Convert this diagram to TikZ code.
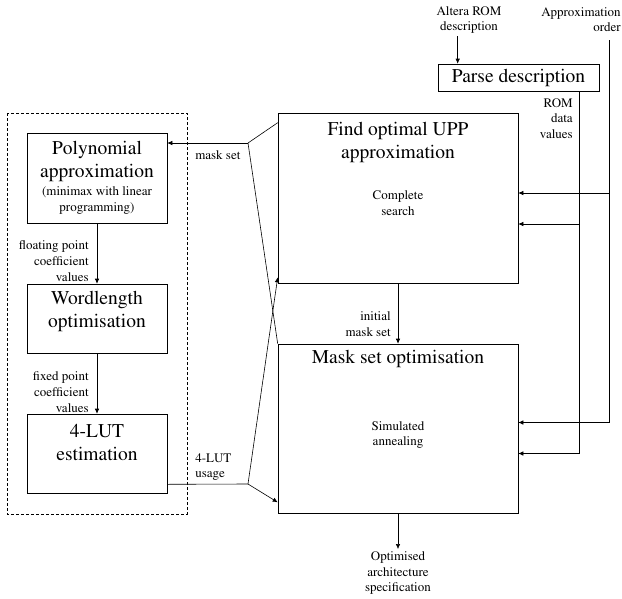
\documentclass[tikz,border=0pt]{standalone}
\usepackage[T1]{fontenc}
\usepackage{mathptmx}
\usetikzlibrary{arrows.meta}
\newcommand{\bigfont}{\fontsize{19.5}{23}\selectfont}
\newcommand{\labfont}{\fontsize{13}{15.8}\selectfont}

\begin{document}
\begin{tikzpicture}[x=1pt, y=-1pt, line width=0.6pt,
    box/.style={draw, inner sep=0pt},
    title/.style={font=\bigfont, align=center, inner sep=0pt},
    lab/.style={font=\labfont, inner sep=0pt},
    arr/.style={-{Latex[length=5pt,width=4.5pt]}}]
    \useasboundingbox (0,0) rectangle (622,598);
    % dashed frame round the coefficient stages
    \draw[dash pattern=on 3pt off 2pt] (7,113) rectangle (187,514);
    % left column
    \node[box, minimum width=140, minimum height=90, font=\bigfont, align=center] (poly) at (97,178)
        {Polynomial\\approximation\\[-5pt]{\labfont (minimax with linear}\\[-7pt]{\labfont programming)}};
    \node[box, minimum width=140, minimum height=69] (word) at (97,318.5) {};
    \node[title] (wordT) at (97,311) {Wordlength\\optimisation};
    \node[box, minimum width=140, minimum height=79] (lut) at (97,453.5) {};
    \node[title] (lutT) at (97,442) {4-LUT\\estimation};
    % right column
    \node[box, minimum width=161, minimum height=27, font=\bigfont] (parse) at (518.5,77.5) {Parse description};
    \node[box, minimum width=240, minimum height=170] (find) at (398,198) {};
    \node[title] (findT) at (398,142) {Find optimal UPP\\approximation};
    \node[lab, align=center] (findS) at (398,203) {Complete\\search};
    \node[box, minimum width=240, minimum height=169] (mask) at (398,428.5) {};
    \node[title] (maskT) at (398,359) {Mask set optimisation};
    \node[lab, align=center] (maskS) at (398,435) {Simulated\\annealing};
    % inputs and output
    \node[lab, align=center, inner sep=2pt] (alt) at (469,20) {Altera ROM\\description};
    \node[lab, align=right, anchor=north east] (ord) at (621,7) {Approximation\\order};
    \node[lab, align=center, inner sep=2pt] (opt) at (398,573) {Optimised\\architecture\\specification};
    % edge labels
    \node[lab, align=right, anchor=east] (fltL) at (89,261) {floating point\\coefficient\\values};
    \node[lab, align=right, anchor=east] (fixL) at (89,392) {fixed point\\coefficient\\values};
    \node[lab, align=right, anchor=east] (initL) at (391,324) {initial\\mask set};
    \node[lab, align=right, anchor=north east] (romL) at (573,98) {ROM\\data\\values};
    \node[lab, anchor=west] (msL) at (195,155) {mask set};
    \node[lab, align=left, anchor=west] (usL) at (195,467) {4-LUT\\usage};
    % tap points
    \coordinate (pin) at ([xshift=20pt]parse.north west);
    \coordinate (ordin) at (609,40);
    \coordinate (romout) at ([xshift=60.5pt]parse.south);
    \coordinate (fA) at ([yshift=5pt]find.east);
    \coordinate (fB) at ([yshift=-26pt]find.east);
    \coordinate (msj) at (248,143);
    \coordinate (lj) at (248,484);
    % flow
    \draw[arr] (poly) -- (word);
    \draw[arr] (word) -- (lut);
    \draw[arr] (find) -- (mask);
    \draw[arr] (mask) -- (opt);
    \draw[arr] (alt.south -| pin) -- (pin);
    \draw[arr] (ordin) |- ([yshift=6pt]mask.east);
    \draw[arr] (ordin |- fA) -- (fA);
    \draw[arr] (romout) |- ([yshift=-25pt]mask.east);
    \draw[arr] (romout |- fB) -- (fB);
    % mask set back to the polynomial stage
    \draw ([yshift=-10pt]find.north west) -- (msj);
    \draw (mask.north west) -- (msj);
    \draw[arr] (msj) -- (msj -| poly.east);
    % 4-LUT usage forward
    \draw ([yshift=9pt]lut.south east) -- (lj);
    \draw[arr] (lj) -- ([yshift=6pt]find.south west);
    \draw[arr] (lj) -- ([yshift=11pt]mask.south west);
\end{tikzpicture}
\end{document}
